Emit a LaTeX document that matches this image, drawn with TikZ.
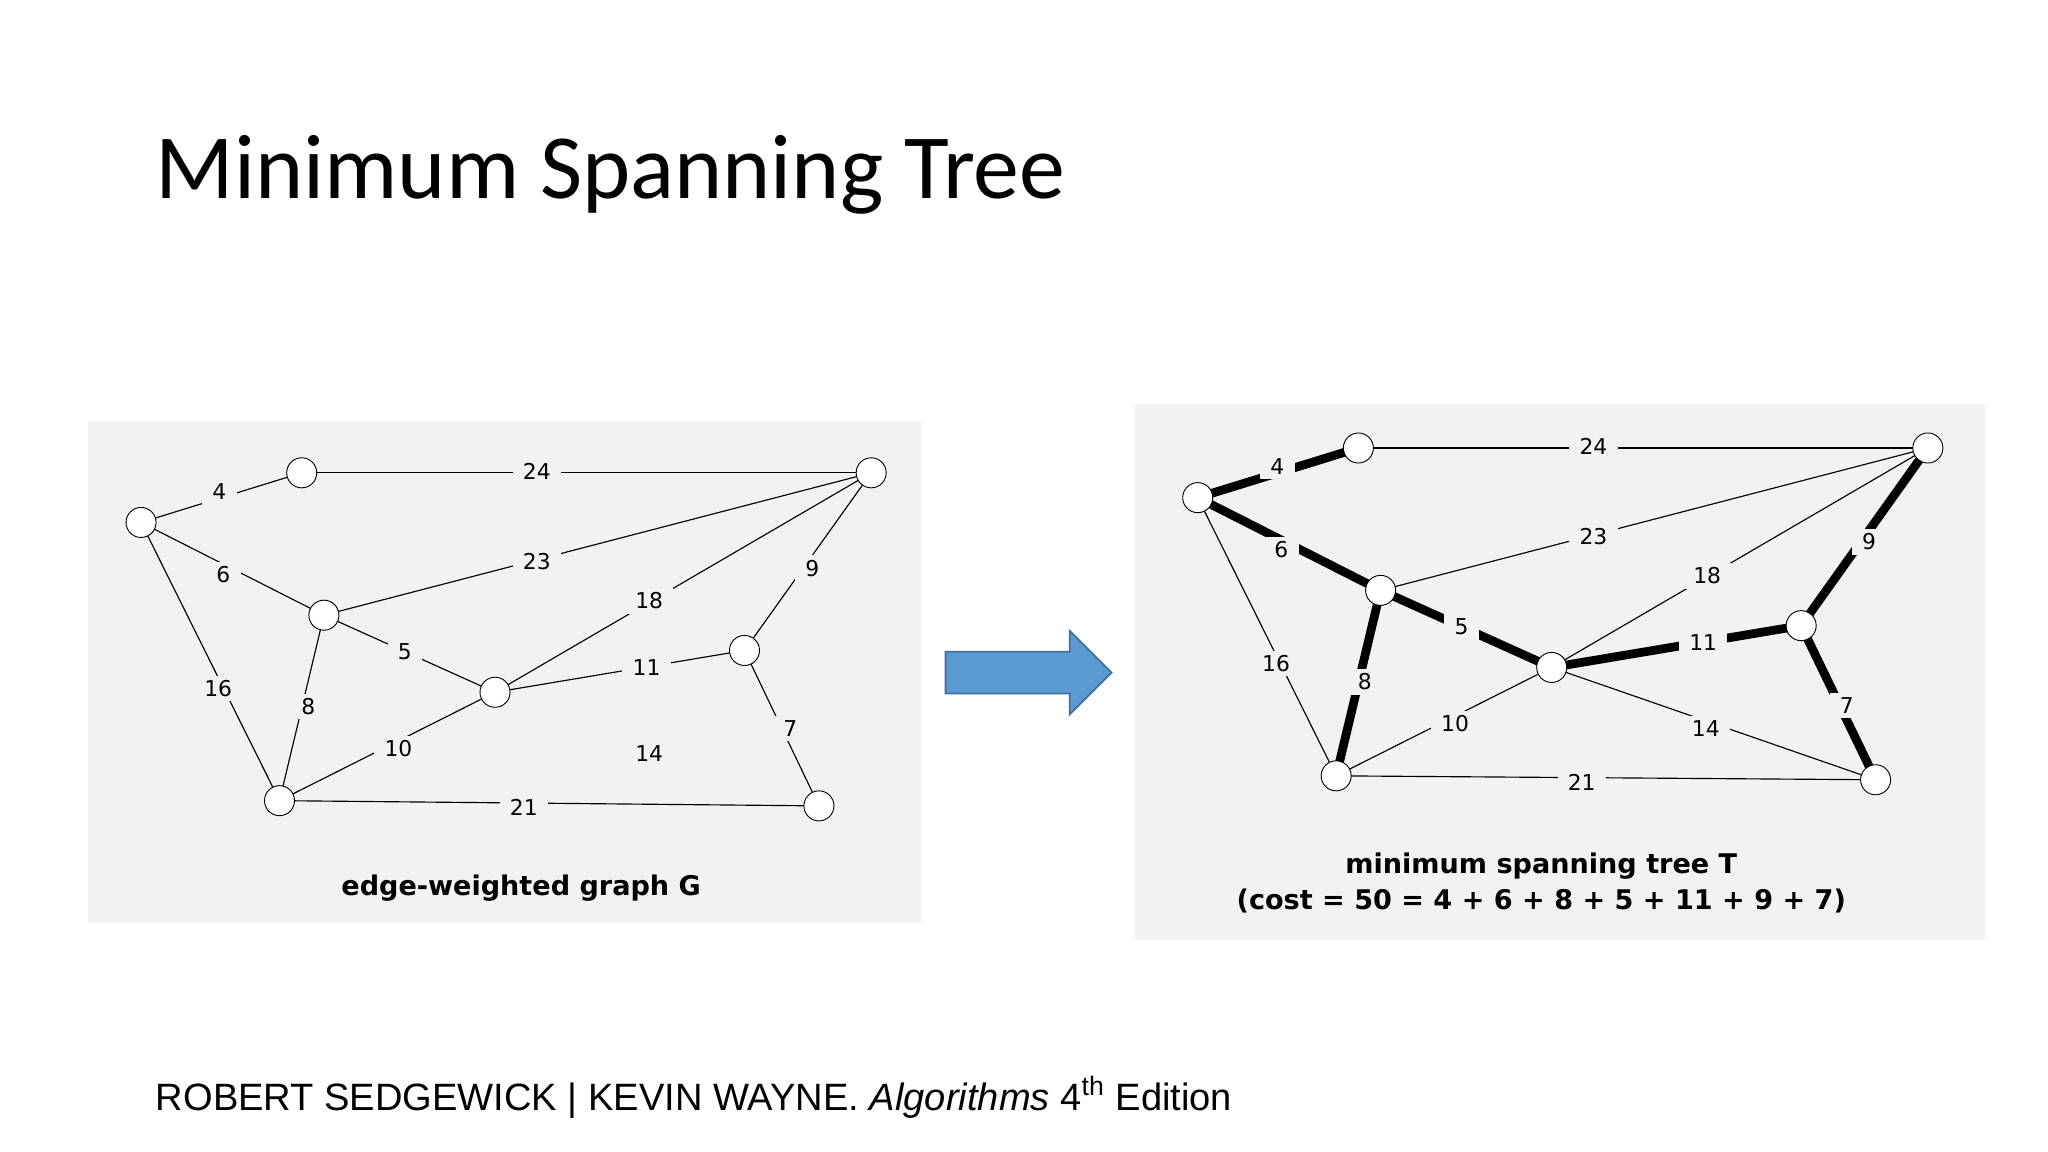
\documentclass[tikz,border=0pt]{standalone}
\usepackage{fontspec}
\setmainfont{Carlito}
\newfontfamily\lbl{DejaVu Sans}
\newfontfamily\foot{Liberation Sans}
\begin{document}
\begin{tikzpicture}[x=0.02cm,y=-0.02cm,
  vtx/.style={circle,draw,fill=white,minimum size=0.46cm,inner sep=0pt},
  wt/.style={fill=panel,inner xsep=4.5pt,inner ysep=2pt,font=\lbl\fontsize{9.5}{11}\selectfont},
  edg/.style={draw,line width=0.5pt},
  mst/.style={draw,line width=3.8pt},
  captext/.style={font=\lbl\bfseries\fontsize{11.8}{16}\selectfont,align=center}]
\definecolor{panel}{HTML}{F2F2F2}
\useasboundingbox (0,0) rectangle (1568,882);
\fill[white] (0,0) rectangle (1568,882);
\node[anchor=base west,inner sep=0pt,font=\fontsize{40}{46}\selectfont] (title) at (119,152) {Minimum Spanning Tree};
% left panel
\fill[panel] (67,322) rectangle (705,707);
\coordinate (A) at (108,400); \coordinate (B) at (231,362); \coordinate (C) at (667,362);
\coordinate (D) at (248,471); \coordinate (E) at (379,530); \coordinate (F) at (570,498);
\coordinate (G) at (214,613); \coordinate (H) at (627,617);
\foreach \u/\v in {A/B,B/C,A/D,D/C,A/G,D/G,D/E,E/C,E/F,F/C,G/E,F/H,G/H} \draw[edg] (\u)--(\v);
\node[wt] (l4) at (168,376) {4};
\node[wt] (l24) at (411,361) {24};
\node[wt] (l6) at (171,440) {6};
\node[wt] (l23) at (411,430) {23};
\node[wt] (l16) at (167,527) {16};
\node[wt] (l8) at (236,541) {8};
\node[wt] (l5) at (310,499) {5};
\node[wt] (l18) at (497,460) {18};
\node[wt] (l11) at (495,511) {11};
\node[wt] (l9) at (622,435) {9};
\node[wt] (l10) at (305,573) {10};
\node[wt] (l7) at (605,558) {7};
\node[wt] (l21) at (401,618) {21};
\node[wt] (l14) at (497,577) {14};
\foreach \n in {A,B,C,D,E,F,G,H} \node[vtx] (n\n) at (\n) {};
\node[captext] (capL) at (399,680) {edge-weighted graph G};
% arrow
\draw[fill={rgb,255:red,91;green,155;blue,213},draw={rgb,255:red,65;green,113;blue,156},line width=0.8pt]
 (724,499)--(819,499)--(819,483)--(851,515)--(819,547)--(819,531)--(724,531)--cycle;
% right panel
\fill[panel] (869,309) rectangle (1520,720);
\coordinate (a) at (917,381); \coordinate (b) at (1040,343); \coordinate (c) at (1476,343);
\coordinate (d) at (1057,452); \coordinate (e) at (1188,511); \coordinate (f) at (1379,479);
\coordinate (g) at (1023,594); \coordinate (h) at (1436,597);
\foreach \u/\v in {b/c,d/c,a/g,e/c,g/e,e/h,g/h} \draw[edg] (\u)--(\v);
\foreach \u/\v in {a/b,a/d,d/g,d/e,e/f,f/c,f/h} \draw[mst] (\u)--(\v);
\node[wt] (r4) at (978,357) {4};
\node[wt] (r24) at (1220,342) {24};
\node[wt] (r6) at (981,421) {6};
\node[wt] (r23) at (1220,411) {23};
\node[wt] (r16) at (977,508) {16};
\node[wt] (r8) at (1045,522) {8};
\node[wt] (r5) at (1119,480) {5};
\node[wt] (r18) at (1307,441) {18};
\node[wt] (r11) at (1304,492) {11};
\node[wt] (r9) at (1431,415) {9};
\node[wt] (r10) at (1114,554) {10};
\node[wt] (r14) at (1306,558) {14};
\node[wt] (r7) at (1414,540) {7};
\node[wt] (r21) at (1211,599) {21};
\foreach \n in {a,b,c,d,e,f,g,h} \node[vtx] (m\n) at (\n) {};
\node[captext] (capR) at (1180,676) {minimum spanning tree T\\(cost = 50 = 4 + 6 + 8 + 5 + 11 + 9 + 7)};
\node[anchor=base west,inner sep=0pt,font=\foot\fontsize{16.6}{19}\selectfont] (ft) at (119,850) {ROBERT SEDGEWICK | KEVIN WAYNE. \textit{Algorithms} 4\textsuperscript{th} Edition};
\end{tikzpicture}
\end{document}
